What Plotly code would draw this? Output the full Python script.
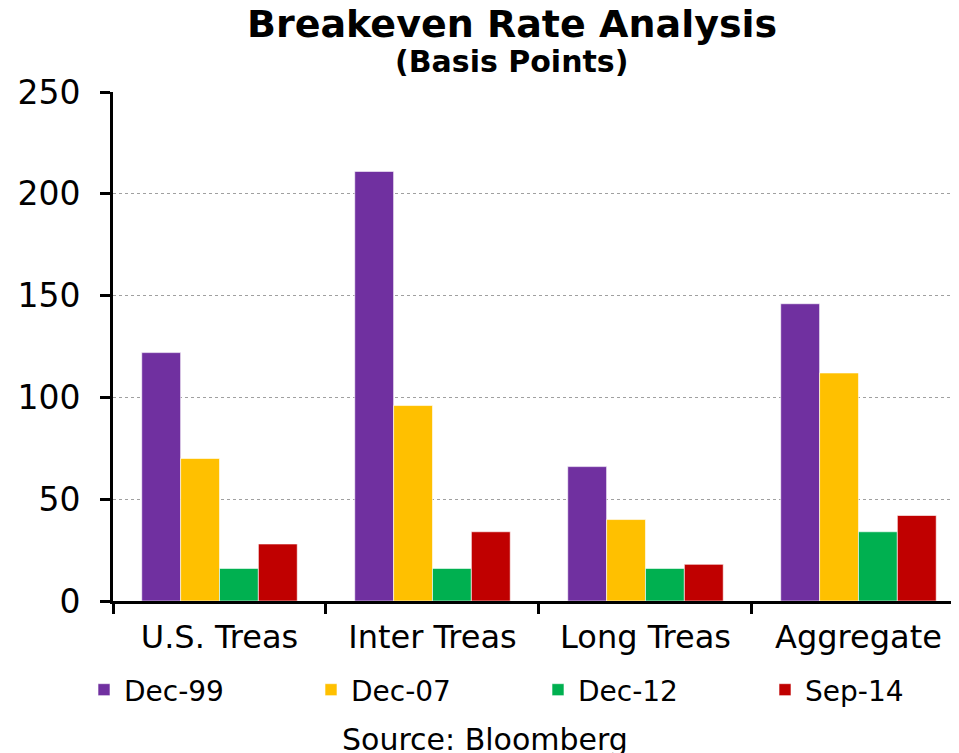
import plotly.graph_objects as go

categories = ["U.S. Treas", "Inter Treas", "Long Treas", "Aggregate"]
series_names = ["Dec-99", "Dec-07", "Dec-12", "Sep-14"]
dec99 = [122, 211, 66, 146]
dec07 = [70, 96, 40, 112]
dec12 = [16, 16, 16, 34]
sep14 = [28, 34, 18, 42]
colors = ["#7030A0", "#FFC000", "#00B050", "#C00000"]

FONT = "DejaVu Sans"

# page body has an 8px margin, so the figure is a bit smaller than the window
W, H = 951, 745

legend_ids = ["legend", "legend2", "legend3", "legend4"]
legend_x = [76, 303, 530, 757]  # left edge of each legend entry, px

fig = go.Figure()
for name, vals, col, lid in zip(series_names, [dec99, dec07, dec12, sep14], colors, legend_ids):
    fig.add_trace(go.Bar(x=categories, y=vals, name=name, legend=lid, showlegend=True,
                         marker=dict(color=col, line=dict(color="rgba(255,255,255,0.6)", width=1))))

legends = {}
for lid, lx in zip(legend_ids, legend_x):
    legends[lid] = dict(orientation="h", xref="container", yref="container",
                        x=lx / W, y=0.0846, xanchor="left", yanchor="middle",
                        font=dict(size=28), bgcolor="rgba(0,0,0,0)")

fig.update_layout(
    width=W, height=H, showlegend=True,
    barmode="group", bargap=0.27, bargroupgap=0,
    plot_bgcolor="white", paper_bgcolor="white",
    margin=dict(l=105, r=0, t=84, b=152, autoexpand=False),
    font=dict(family=FONT, color="black"),
    xaxis=dict(range=[-0.5, 3.472], showline=True, linecolor="black", linewidth=3,
               ticks="outside", tickson="boundaries", ticklen=10, tickwidth=3, tickcolor="black",
               tickfont=dict(size=32), tickangle=0, ticklabelstandoff=6,
               showgrid=False, automargin=False),
    yaxis=dict(range=[0, 250], dtick=50, showline=True, linecolor="black", linewidth=3,
               ticks="outside", ticklen=10, tickwidth=3, tickcolor="black",
               tickfont=dict(size=33), ticklabelstandoff=13,
               showgrid=True, gridcolor="#a0a0a0", griddash="dot",
               gridwidth=1, zeroline=False, automargin=False),
    annotations=[
        dict(text="<b>Breakeven Rate Analysis</b>", xref="paper", yref="paper",
             x=0.4716, y=1.1336, xanchor="center", yanchor="middle",
             showarrow=False, font=dict(size=38)),
        dict(text="<b>(Basis Points)</b>", xref="paper", yref="paper",
             x=0.4716, y=1.059, xanchor="center", yanchor="middle",
             showarrow=False, font=dict(size=30)),
        dict(text="Source: Bloomberg", xref="paper", yref="paper",
             x=0.44, y=-0.273, xanchor="center", yanchor="middle",
             showarrow=False, font=dict(size=30)),
    ],
    **legends,
)

fig.write_html("out.html")
